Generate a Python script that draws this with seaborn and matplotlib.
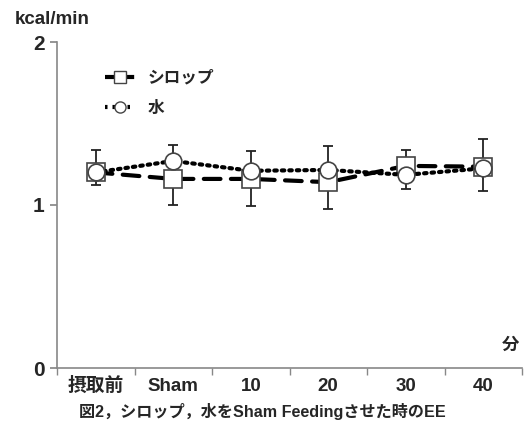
import matplotlib
matplotlib.use("Agg")
import matplotlib.pyplot as plt
import seaborn as sns
import numpy as np
import pandas as pd
from matplotlib.lines import Line2D

categories = ["摂取前", "Sham", "10", "20", "30", "40"]
syrup = [1.20, 1.16, 1.16, 1.14, 1.24, 1.235]
water = [1.20, 1.27, 1.21, 1.215, 1.185, 1.225]
err_top = [1.34, 1.37, 1.33, 1.36, 1.34, 1.405]
err_bottom = [1.12, 1.00, 0.995, 0.975, 1.10, 1.085]
series_names = ["シロップ", "水"]

sns.set_theme(style="white")
plt.rcParams['font.family'] = ['Liberation Sans', 'Noto Sans CJK JP']
plt.rcParams['font.weight'] = 'bold'

fig = plt.figure(figsize=(5.24, 4.33), dpi=100)
ax = fig.add_axes([57/524, 1-368/433, (522-57)/524, (368-42)/433])

x = np.arange(len(categories))
df = pd.DataFrame({"x": np.concatenate([x, x]),
                   "y": syrup + water,
                   "s": [series_names[0]]*len(x) + [series_names[1]]*len(x)})

mid = (np.array(err_top) + np.array(err_bottom)) / 2
ax.errorbar(x, mid, yerr=[mid - np.array(err_bottom), np.array(err_top) - mid],
            fmt='none', ecolor='#222222', elinewidth=1.3, capsize=3.5, capthick=1.3, zorder=1)

dash = (0, (4, 2.5))
dot = (0, (0.6, 1.2))
sns.lineplot(data=df[df.s == series_names[0]], x="x", y="y", ax=ax, color='black',
             linewidth=3, linestyle=dash, marker='s', markersize=12.5,
             markerfacecolor='white', markeredgecolor='#444444', markeredgewidth=1.2,
             legend=False, zorder=2)
sns.lineplot(data=df[df.s == series_names[1]], x="x", y="y", ax=ax, color='black',
             linewidth=3, linestyle=dot, marker='o', markersize=12,
             markerfacecolor='white', markeredgecolor='#444444', markeredgewidth=1.2,
             legend=False, zorder=3)
for ln in ax.lines:
    ln.set_dash_capstyle('round')

ax.set_xlim(-0.5, len(categories) - 0.5)
ax.set_ylim(0, 2)
ax.set_yticks([0, 1, 2])
ax.set_yticklabels(["0", "1", "2"], fontsize=15, fontweight='bold')
ax.set_xticks(x)
ax.set_xticklabels(categories, fontsize=13.5, fontweight='bold')
for t in ax.get_xticklabels():
    t.set_va('center')
ax.set_xticks(np.arange(-0.5, len(categories)), minor=True)
ax.tick_params(axis='x', which='major', length=0, pad=13)
ax.tick_params(axis='x', which='minor', length=5, color='#888888', direction='out', bottom=True)
ax.tick_params(axis='y', length=5, color='#888888', direction='out', left=True, pad=4)
ax.set_xlabel("")
ax.set_ylabel("")
for sp in ['top', 'right']:
    ax.spines[sp].set_visible(False)
for sp in ['left', 'bottom']:
    ax.spines[sp].set_color('#888888')
    ax.spines[sp].set_linewidth(1.2)

handles = [Line2D([0], [0], color='black', linewidth=3, linestyle=(0, (3, 1)), marker='s',
                  markersize=8, markerfacecolor='white', markeredgecolor='#444444'),
           Line2D([0], [0], color='black', linewidth=3, linestyle=dot, marker='o',
                  markersize=8, markerfacecolor='white', markeredgecolor='#444444')]
ax.legend(handles, series_names, loc='upper left', bbox_to_anchor=(0.07, 0.96), frameon=False,
          prop={'size': 12, 'weight': 'bold'}, handlelength=1.8, handletextpad=0.8,
          labelspacing=0.9)

fig.text(15/524, 1-20/433, "kcal/min", fontsize=13.5, fontweight='bold', va='center', ha='left')
fig.text(511/524, 1-345/433, "分", fontsize=12.5, fontweight='bold', va='center', ha='center')
fig.text(262/524, 1-411/433, "図2，シロップ，水をSham Feedingさせた時のEE", fontsize=11.6,
         fontweight='bold', va='center', ha='center')

fig.savefig("out.png", dpi=100)
